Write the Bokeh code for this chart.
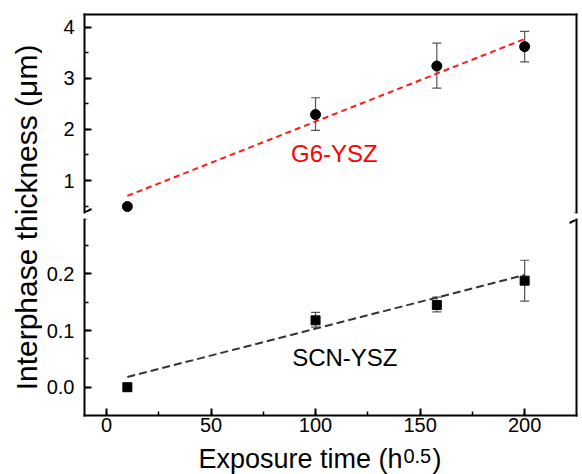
import math
from bokeh.plotting import figure
from bokeh.models import (Range1d, LinearAxis, SingleIntervalTicker, FixedTicker,
                          Whisker, TeeHead, ColumnDataSource, Label, Arrow,
                          PrintfTickFormatter)
from bokeh.layouts import row, column
from bokeh.embed import file_html
from bokeh.resources import INLINE

# ---------------- data ----------------
exposure = [10, 100, 158, 200]
g6_thickness = [0.49, 2.29, 3.24, 3.62]
scn_thickness = [0.0, 0.118, 0.145, 0.188]

err_x = [100, 158, 200]
g6_upper = [2.62, 3.69, 3.92]
g6_lower = [1.98, 2.81, 3.32]
scn_upper = [0.132, 0.159, 0.224]
scn_lower = [0.106, 0.133, 0.152]

fit_x = [10, 200]
g6_fit = [0.70, 3.77]
scn_fit = [0.018, 0.198]

x_ticks_interval = 50
top_tick_interval = 1
bot_tick_interval = 0.1

# ---------------- layout constants ----------------
FONT = "Liberation Sans"
TOTAL_W, TOTAL_H = 582, 474
TITLE_W = 42
MAIN_W = TOTAL_W - TITLE_W
MB_LEFT = 42
MB_RIGHT = 6
FRAME_W = MAIN_W - MB_LEFT - MB_RIGHT
TOP_H, BOT_H = 198, 196
TOP_MB_TOP, TOP_MB_BOT = 14, 3
BOT_MB_TOP, BOT_MB_BOT = 4, 30
TOP_FIG_H = TOP_MB_TOP + TOP_H + TOP_MB_BOT
BOT_FIG_H = BOT_MB_TOP + BOT_H + BOT_MB_BOT
XT_FIG_H = TOTAL_H - TOP_FIG_H - BOT_FIG_H

X_LO, X_HI = -10.5, 224.8
TOP_LO, TOP_HI = 0.374, 4.249
BOT_LO, BOT_HI = -0.0499, 0.2959

px_x = FRAME_W / (X_HI - X_LO)
px_top = TOP_H / (TOP_HI - TOP_LO)
px_bot = BOT_H / (BOT_HI - BOT_LO)

x_range = Range1d(X_LO, X_HI)


def frame_axis(ax, ticks=True):
    ax.axis_line_width = 2
    ax.axis_line_color = "black"
    ax.axis_line_cap = "square"
    ax.major_tick_in = 7 if ticks else 0
    ax.major_tick_out = 0
    ax.minor_tick_in = 4 if ticks else 0
    ax.minor_tick_out = 0
    ax.major_tick_line_width = 2
    ax.minor_tick_line_width = 1.5
    ax.major_label_text_font = FONT
    ax.major_label_text_font_size = "20px"
    ax.major_label_text_color = "black"
    return ax


def blank_axis():
    ax = LinearAxis(ticker=FixedTicker(ticks=[]))
    return frame_axis(ax, ticks=False)


def make_fig(height, y_range, mb_top, mb_bot):
    f = figure(width=MAIN_W, height=height, x_range=x_range, y_range=y_range,
               output_backend="svg", toolbar_location=None,
               x_axis_location=None, y_axis_location=None,
               min_border_left=MB_LEFT, min_border_right=MB_RIGHT,
               min_border_top=mb_top, min_border_bottom=mb_bot)
    f.outline_line_color = None
    f.grid.visible = False
    return f


def break_mark(fig, xd, yd, ypx):
    fig.add_layout(Arrow(end=None, start=None,
                         x_start=xd - 7 / px_x, y_start=yd - 3.5 / ypx,
                         x_end=xd + 7 / px_x, y_end=yd + 3.5 / ypx,
                         line_width=2, line_color="black"))


def err_whisker(src):
    return Whisker(source=src, base="x", upper="upper", lower="lower",
                   line_color="#555555", line_width=1.2,
                   upper_head=TeeHead(size=9, line_color="#555555", line_width=1.2),
                   lower_head=TeeHead(size=9, line_color="#555555", line_width=1.2))


# ---------------- top panel (G6-YSZ) ----------------
top = make_fig(TOP_FIG_H, Range1d(TOP_LO, TOP_HI), TOP_MB_TOP, TOP_MB_BOT)
yl = frame_axis(LinearAxis(ticker=SingleIntervalTicker(interval=top_tick_interval, num_minor_ticks=2)))
yl.formatter = PrintfTickFormatter(format="%d")
yl.major_label_standoff = 10
top.add_layout(yl, "left")
top.add_layout(blank_axis(), "right")
top.add_layout(blank_axis(), "above")

top.line(fit_x, g6_fit, line_color="#ff1a1a", line_width=2, line_dash="6 4")
top.add_layout(err_whisker(ColumnDataSource(dict(x=err_x, upper=g6_upper, lower=g6_lower))))
top.scatter(exposure, g6_thickness, marker="circle", size=10, color="black")
top.add_layout(Label(x=109, y=1.52, text="G6-YSZ", text_color="#ff0000",
                     text_font=FONT, text_font_size="24px",
                     text_align="center", text_baseline="middle"))
break_mark(top, X_LO, TOP_LO, px_top)
break_mark(top, X_HI, TOP_LO, px_top)

# ---------------- bottom panel (SCN-YSZ) ----------------
bot = make_fig(BOT_FIG_H, Range1d(BOT_LO, BOT_HI), BOT_MB_TOP, BOT_MB_BOT)
bl = frame_axis(LinearAxis(ticker=SingleIntervalTicker(interval=bot_tick_interval, num_minor_ticks=2)))
bl.formatter = PrintfTickFormatter(format="%.1f")
bl.major_label_standoff = 10
bot.add_layout(bl, "left")
bx = frame_axis(LinearAxis(ticker=SingleIntervalTicker(interval=x_ticks_interval, num_minor_ticks=2)))
bx.major_label_standoff = 2
bot.add_layout(bx, "below")
bot.add_layout(blank_axis(), "right")

bot.line(fit_x, scn_fit, line_color="#333333", line_width=2, line_dash="8 4")
bot.add_layout(err_whisker(ColumnDataSource(dict(x=err_x, upper=scn_upper, lower=scn_lower))))
bot.scatter(exposure, scn_thickness, marker="square", size=9, color="black")
bot.add_layout(Label(x=114, y=0.053, text="SCN-YSZ", text_color="black",
                     text_font=FONT, text_font_size="24px",
                     text_align="center", text_baseline="middle"))
break_mark(bot, X_LO, BOT_HI, px_bot)
break_mark(bot, X_HI, BOT_HI, px_bot)

# ---------------- x-axis title panel (with superscript) ----------------
xt = figure(width=MAIN_W, height=XT_FIG_H, x_range=Range1d(0, MAIN_W),
            y_range=Range1d(0, XT_FIG_H), output_backend="svg",
            toolbar_location=None, x_axis_location=None, y_axis_location=None,
            min_border=0)
xt.outline_line_color = None
xt.grid.visible = False
junction = 391 - TITLE_W
title_mid = 458.5
xt.add_layout(Label(x=junction, y=TOTAL_H - title_mid, text="Exposure time (h",
                    text_font=FONT, text_font_size="27px", text_color="black",
                    text_align="right", text_baseline="middle"))
xt.add_layout(Label(x=junction + 1, y=TOTAL_H - (title_mid - 3), text="0.5",
                    text_font=FONT, text_font_size="20px", text_color="black",
                    text_align="left", text_baseline="middle"))
xt.add_layout(Label(x=424 - TITLE_W, y=TOTAL_H - title_mid, text=")",
                    text_font=FONT, text_font_size="27px", text_color="black",
                    text_align="left", text_baseline="middle"))

# ---------------- y-axis title panel ----------------
tfig = figure(width=TITLE_W, height=TOTAL_H, x_range=Range1d(0, TITLE_W),
              y_range=Range1d(0, TOTAL_H), output_backend="svg",
              toolbar_location=None, x_axis_location=None, y_axis_location=None,
              min_border=0)
tfig.outline_line_color = None
tfig.grid.visible = False
tfig.add_layout(Label(x=26, y=TOTAL_H - 217, text="Interphase thickness (μm)",
                      angle=math.pi / 2, text_font=FONT, text_font_size="30px",
                      text_color="black", text_align="center", text_baseline="middle"))

layout = row(tfig, column(top, bot, xt, spacing=0), spacing=0)

with open("out.html", "w") as fh:
    fh.write(file_html(layout, INLINE))
